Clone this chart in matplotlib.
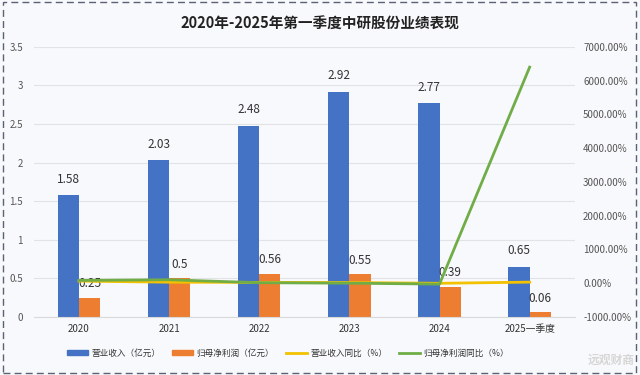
import matplotlib
matplotlib.use("Agg")
import matplotlib.pyplot as plt
from matplotlib.patches import Rectangle
from matplotlib.ticker import FuncFormatter, MultipleLocator
import numpy as np

plt.rcParams['font.family'] = ['Noto Sans CJK SC', 'DejaVu Sans']

categories = ["2020", "2021", "2022", "2023", "2024", "2025一季度"]
revenue = [1.58, 2.03, 2.48, 2.92, 2.77, 0.65]
net_profit = [0.25, 0.5, 0.56, 0.55, 0.39, 0.06]
revenue_yoy = [60, 28, 22, 18, -5, 30]
profit_yoy = [80, 100, 12, -2, -29, 6400]
series_names = ["营业收入（亿元）", "归母净利润（亿元）", "营业收入同比（%）", "归母净利润同比（%）"]
title = "2020年-2025年第一季度中研股份业绩表现"

c_blue = "#4472C4"
c_orange = "#ED7D31"
c_yellow = "#F2C200"
c_green = "#70AD47"
bg = "#F8F9FC"

fig = plt.figure(figsize=(6.4, 3.75), dpi=100, facecolor=bg)
fig.patches.append(Rectangle((0.004, 0.006), 0.990, 0.988, transform=fig.transFigure,
                             fill=False, edgecolor="#5a6275", linestyle=(0, (5, 3)),
                             linewidth=1.0))

ax = fig.add_axes([0.053, 0.155, 0.845, 0.72])
ax.set_facecolor(bg)
x = np.arange(len(categories))
w = 0.235
ax.bar(x - w / 2, revenue, w, color=c_blue, zorder=2)
ax.bar(x + w / 2, net_profit, w, color=c_orange, zorder=2)
ax.set_ylim(0, 3.5)
ax.set_xlim(-0.5, len(categories) - 0.5)
ax.yaxis.set_major_locator(MultipleLocator(0.5))
ax.yaxis.set_major_formatter(FuncFormatter(lambda v, p: f"{v:g}"))
ax.grid(axis="y", color="#E3E3E6", linewidth=0.8, zorder=0)
ax.set_xticks(x)
ax.set_xticklabels(categories, fontsize=7, color="#333333")
ax.tick_params(axis="y", labelsize=7, colors="#555555", length=0, pad=8)
ax.tick_params(axis="x", length=0, pad=5)
for s in ["top", "right", "left"]:
    ax.spines[s].set_visible(False)
ax.spines["bottom"].set_color("#D9D9D9")

for xi, v in zip(x, revenue):
    ax.text(xi - w / 2, v + 0.12, f"{v:g}", ha="center", va="bottom", fontsize=8.5, color="#333333")
for xi, v in zip(x, net_profit):
    ax.text(xi + w / 2, v + 0.1, f"{v:g}", ha="center", va="bottom", fontsize=8.5, color="#333333", zorder=5)

ax2 = ax.twinx()
ax2.set_ylim(-1000, 7000)
ax2.yaxis.set_major_locator(MultipleLocator(1000))
ax2.yaxis.set_major_formatter(FuncFormatter(lambda v, p: f"{v:.2f}%"))
ax2.tick_params(axis="y", labelsize=7, colors="#555555", length=0, pad=6)
for s in ["top", "right", "left", "bottom"]:
    ax2.spines[s].set_visible(False)
ax2.plot(x, revenue_yoy, color=c_yellow, linewidth=2.0, zorder=3)
ax2.plot(x, profit_yoy, color=c_green, linewidth=2.0, zorder=3)

fig.text(0.5, 0.936, title, ha="center", va="center", fontsize=10.5, fontweight="bold", color="#222222")

handles = [Rectangle((0, 0), 1, 1, color=c_blue), Rectangle((0, 0), 1, 1, color=c_orange),
           plt.Line2D([], [], color=c_yellow, linewidth=2.0), plt.Line2D([], [], color=c_green, linewidth=2.0)]
fig.legend(handles, series_names, loc="center", bbox_to_anchor=(0.45, 0.058), ncol=4,
           frameon=False, fontsize=6.2, handlelength=2.4, handleheight=0.5, columnspacing=1.4,
           handletextpad=0.4, labelcolor="#333333")

fig.text(0.955, 0.04, "远观财商", ha="center", va="center", fontsize=8.5, color="#d6d6d6", fontweight="bold")

fig.savefig("out.png", dpi=100, facecolor=bg)
